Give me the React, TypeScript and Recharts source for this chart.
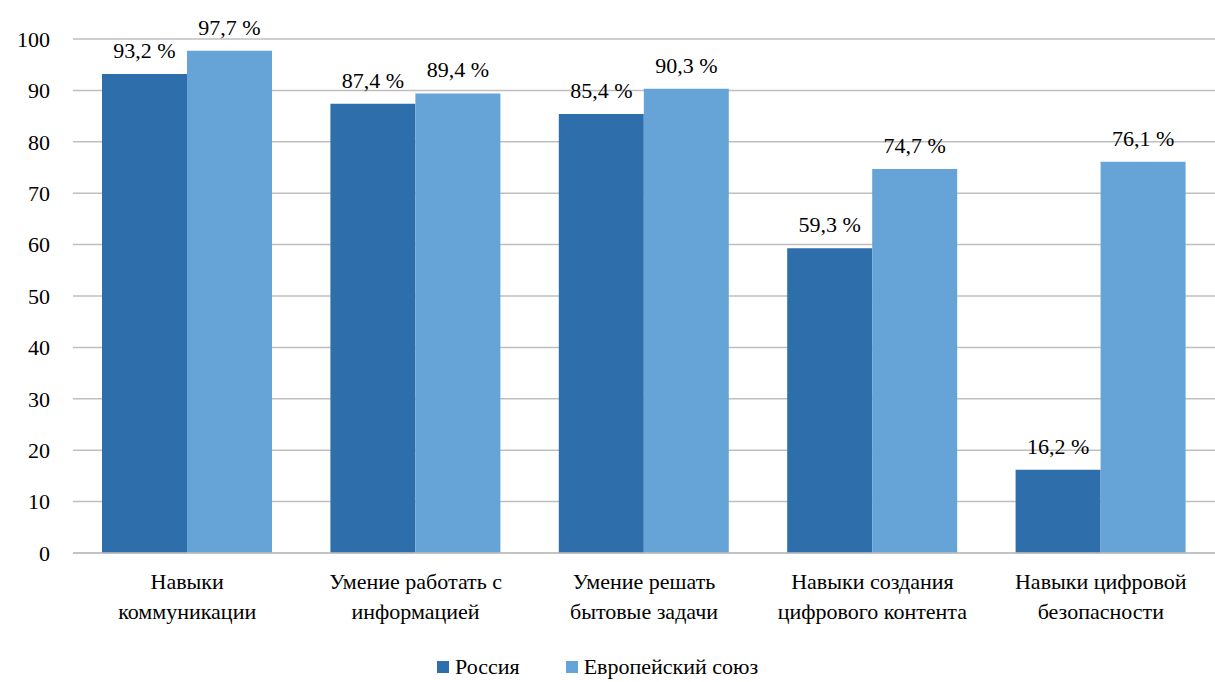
import { BarChart, Bar, XAxis, YAxis, CartesianGrid, LabelList, Legend } from "recharts"

const categories = [
  ["Навыки", "коммуникации"],
  ["Умение работать с", "информацией"],
  ["Умение решать", "бытовые задачи"],
  ["Навыки создания", "цифрового контента"],
  ["Навыки цифровой", "безопасности"],
]
const russia = [93.2, 87.4, 85.4, 59.3, 16.2]
const eu = [97.7, 89.4, 90.3, 74.7, 76.1]
const yTicks = [0, 10, 20, 30, 40, 50, 60, 70, 80, 90, 100]

const DARK = "#2E6EAB"
const LIGHT = "#66A4D8"
const FONT = "'Liberation Serif', Tinos, 'Times New Roman', Times, 'Noto Serif', 'DejaVu Serif', FreeSerif, serif"

const data = categories.map((c, i) => ({
  name: c.join("\n"),
  russia: russia[i],
  eu: eu[i],
}))

const fmt = (v: any) => `${String(v).replace(".", ",")} %`

const CategoryTick = ({ x, y, payload }: any) => {
  const lines = String(payload.value).split("\n")
  return (
    <text x={x} y={y} textAnchor="middle" style={{ fontFamily: FONT }} fontSize={22} fill="#000">
      {lines.map((l, i) => (
        <tspan key={i} x={x} dy={i === 0 ? 28 : 30}>{l}</tspan>
      ))}
    </text>
  )
}

const LegendContent = () => (
  <div style={{ display: "flex", alignItems: "center", fontFamily: FONT, fontSize: 22, color: "#000" }}>
    <span style={{ width: 12, height: 12, background: DARK, display: "inline-block", marginRight: 6 }} />
    <span style={{ marginRight: 46 }}>Россия</span>
    <span style={{ width: 12, height: 12, background: LIGHT, display: "inline-block", marginRight: 6 }} />
    <span>Европейский союз</span>
  </div>
)

export default function App() {
  return (
    <div style={{ position: "absolute", left: 0, top: 0, background: "#fff", fontFamily: FONT }}>
      <BarChart
        width={1215}
        height={682}
        data={data}
        margin={{ top: 39, right: 0, left: 0, bottom: 0 }}
        barGap={0}
        barCategoryGap={29}
        style={{ fontFamily: FONT }}
      >
        <CartesianGrid horizontal vertical={false} stroke="#BFBFBF" strokeWidth={1.5} />
        <XAxis
          dataKey="name"
          tick={<CategoryTick />}
          tickLine={false}
          axisLine={{ stroke: "#BFBFBF", strokeWidth: 1.5 }}
          height={103}
          interval={0}
        />
        <YAxis
          domain={[0, 100]}
          ticks={yTicks}
          width={73}
          tickLine={false}
          axisLine={false}
          tickMargin={17}
          tick={{ fontFamily: FONT, fontSize: 22, fill: "#000" }}
        />
        <Legend
          verticalAlign="bottom"
          content={<LegendContent />}
          wrapperStyle={{ left: 437, width: "auto", bottom: 2 }}
        />
        <Bar dataKey="russia" name="Россия" fill={DARK} isAnimationActive={false}>
          <LabelList
            dataKey="russia"
            position="top"
            offset={16}
            formatter={fmt}
            style={{ fontFamily: FONT, fontSize: 22, fill: "#000" }}
          />
        </Bar>
        <Bar dataKey="eu" name="Европейский союз" fill={LIGHT} isAnimationActive={false}>
          <LabelList
            dataKey="eu"
            position="top"
            offset={16}
            formatter={fmt}
            style={{ fontFamily: FONT, fontSize: 22, fill: "#000" }}
          />
        </Bar>
      </BarChart>
    </div>
  )
}
